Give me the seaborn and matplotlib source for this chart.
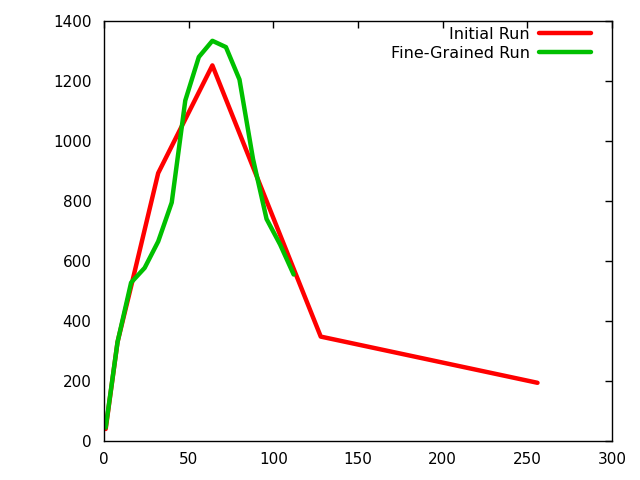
import matplotlib
matplotlib.use("Agg")
import matplotlib.pyplot as plt
import seaborn as sns
import pandas as pd

initial_x = [1, 8, 16, 32, 64, 128, 256]
initial_y = [40, 330, 515, 893, 1252, 348, 194]

fine_x = [1, 8, 16, 24, 32, 40, 48, 56, 64, 72, 80, 88, 96, 104, 112]
fine_y = [45, 330, 528, 577, 665, 795, 1135, 1280, 1334, 1313, 1205, 940, 740, 655, 555]

series_names = ["Initial Run", "Fine-Grained Run"]
colors = ["#ff0000", "#00c000"]

df = pd.concat([
    pd.DataFrame({"x": initial_x, "y": initial_y, "series": series_names[0]}),
    pd.DataFrame({"x": fine_x, "y": fine_y, "series": series_names[1]}),
], ignore_index=True)

sns.set_style("white")
plt.rcParams['font.family'] = ['DejaVu Sans']

fig = plt.figure(figsize=(6.4, 4.8), dpi=100)
ax = fig.add_axes([104/640, 1 - 441/480, (612 - 104)/640, (441 - 21)/480])

sns.lineplot(data=df, x="x", y="y", hue="series", palette=dict(zip(series_names, colors)),
             linewidth=3.2, sort=False, estimator=None, ax=ax)

ax.set_xlim(0, 300)
ax.set_ylim(0, 1400)
ax.set_xticks(range(0, 301, 50))
ax.set_yticks(range(0, 1401, 200))
ax.set_xlabel("")
ax.set_ylabel("")
ax.tick_params(direction="in", length=5, width=1, top=True, right=True,
               labelsize=11, colors="black", pad=8)
ax.tick_params(axis="y", pad=9)
for s in ax.spines.values():
    s.set_visible(True)
    s.set_color("black")
    s.set_linewidth(1)

leg = ax.legend(loc="upper right", frameon=False, markerfirst=False, fontsize=11.5,
                handlelength=3.2, borderaxespad=0.0, labelspacing=0.25, handletextpad=0.6,
                bbox_to_anchor=(588/640 + 0.004, 1 - 27/480), bbox_transform=fig.transFigure,
                borderpad=0.0)
for t in leg.get_texts():
    t.set_ha("right")
    t.set_color("black")

fig.savefig("out.png", dpi=100)
